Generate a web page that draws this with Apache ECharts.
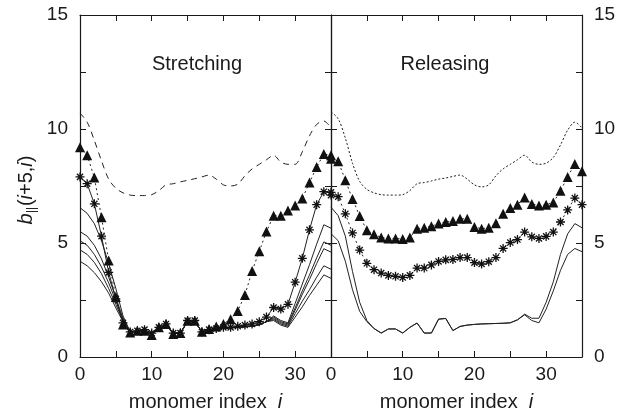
<!DOCTYPE html>
<html style="height: 100%">
  <head>
    <meta charset="UTF-8" />
    <title>b(i+5,i) stretching / releasing</title>
    <script src="https://cdn.jsdelivr.net/npm/echarts@6/dist/echarts.min.js"></script>
  </head>
  <body style="height: 100%; margin: 0; background: #fff">
    <div id="main" style="width: 629px; height: 417px"></div>
    <script>
      // values at monomer index i = 0..35
      const stretchDashed = [10.7, 10.3, 9.5, 8.6, 7.8, 7.4, 7.2, 7.1, 7.08, 7.08, 7.12, 7.3, 7.55, 7.6, 7.68, 7.75, 7.82, 7.9, 7.98, 7.8, 7.55, 7.5, 7.58, 7.95, 8.25, 8.45, 8.65, 8.85, 8.55, 8.45, 8.45, 9.0, 9.7, 10.2, 10.35, 10.05]
      const stretchTri = [9.2, 8.85, 7.87, 6.13, 4.23, 2.63, 1.42, 1.08, 1.15, 1.15, 0.97, 1.3, 1.45, 1.01, 1.05, 1.59, 1.59, 1.11, 1.23, 1.34, 1.45, 1.66, 2.02, 2.72, 3.77, 4.64, 5.5, 6.2, 6.2, 6.42, 6.65, 6.95, 7.65, 8.33, 8.9, 8.85]
      const stretchStar = [7.9, 7.6, 6.72, 5.3, 3.71, 2.55, 1.5, 1.1, 1.15, 1.2, 1.05, 1.3, 1.45, 1.05, 1.05, 1.6, 1.6, 1.1, 1.2, 1.25, 1.3, 1.3, 1.35, 1.4, 1.45, 1.55, 1.75, 2.17, 2.1, 2.31, 3.28, 4.33, 5.58, 6.68, 7.25, 7.22]
      const stretchA = [6.55, 6.3, 5.85, 5.1, 4.1, 3.0, 1.8, 1.1, 1.12, 1.12, 1.02, 1.25, 1.4, 1.05, 1.05, 1.55, 1.55, 1.1, 1.18, 1.22, 1.26, 1.28, 1.3, 1.33, 1.35, 1.42, 1.55, 1.8, 1.6, 1.5, 2.35, 3.2, 4.05, 4.95, 5.8, 5.65]
      const stretchB = [5.5, 5.3, 4.9, 4.3, 3.5, 2.6, 1.7, 1.1, 1.12, 1.12, 1.02, 1.25, 1.4, 1.05, 1.05, 1.55, 1.55, 1.1, 1.18, 1.22, 1.26, 1.28, 1.3, 1.33, 1.35, 1.42, 1.55, 1.75, 1.55, 1.45, 2.15, 2.9, 3.6, 4.35, 5.05, 4.9]
      const stretchC = [5.1, 4.9, 4.5, 3.95, 3.25, 2.45, 1.65, 1.1, 1.12, 1.12, 1.02, 1.25, 1.4, 1.05, 1.05, 1.55, 1.55, 1.1, 1.18, 1.22, 1.26, 1.28, 1.3, 1.33, 1.35, 1.42, 1.55, 1.7, 1.5, 1.4, 2.05, 2.75, 3.4, 4.1, 4.75, 4.6]
      const stretchD = [4.7, 4.5, 4.15, 3.65, 3.0, 2.3, 1.6, 1.1, 1.12, 1.12, 1.02, 1.25, 1.4, 1.05, 1.05, 1.55, 1.55, 1.1, 1.18, 1.22, 1.26, 1.28, 1.3, 1.33, 1.35, 1.42, 1.55, 1.65, 1.45, 1.35, 1.9, 2.45, 2.95, 3.5, 4.0, 3.85]
      const stretchE = [4.2, 4.0, 3.7, 3.3, 2.8, 2.15, 1.55, 1.1, 1.12, 1.12, 1.02, 1.25, 1.4, 1.05, 1.05, 1.55, 1.55, 1.1, 1.18, 1.22, 1.26, 1.28, 1.3, 1.33, 1.35, 1.42, 1.55, 1.6, 1.4, 1.3, 1.75, 2.2, 2.7, 3.15, 3.6, 3.45]

      const releaseDotted = [10.75, 10.45, 9.6, 8.5, 7.7, 7.35, 7.2, 7.12, 7.1, 7.1, 7.12, 7.3, 7.6, 7.65, 7.72, 7.8, 7.85, 7.92, 7.98, 7.8, 7.55, 7.46, 7.55, 7.95, 8.25, 8.45, 8.65, 8.85, 8.55, 8.45, 8.5, 8.75, 9.3, 9.95, 10.3, 10.05]
      const releaseTri = [8.7, 8.59, 7.75, 6.93, 6.18, 5.56, 5.38, 5.24, 5.2, 5.2, 5.18, 5.24, 5.63, 5.67, 5.74, 5.85, 5.92, 5.96, 6.06, 6.06, 5.7, 5.63, 5.67, 5.87, 6.28, 6.54, 6.68, 7.0, 6.71, 6.64, 6.68, 6.78, 7.29, 7.9, 8.47, 8.15]
      const releaseStar = [7.1, 7.03, 6.28, 5.44, 4.69, 4.11, 3.83, 3.68, 3.58, 3.54, 3.49, 3.58, 3.9, 3.9, 4.04, 4.19, 4.26, 4.28, 4.36, 4.36, 4.14, 4.08, 4.18, 4.36, 4.76, 5.02, 5.15, 5.48, 5.27, 5.2, 5.29, 5.48, 5.92, 6.45, 6.97, 6.68]
      const releaseA = [6.57, 6.2, 5.3, 3.75, 2.4, 1.6, 1.25, 1.05, 1.23, 1.23, 1.05, 1.3, 1.49, 1.05, 1.05, 1.66, 1.69, 1.16, 1.34, 1.4, 1.43, 1.45, 1.46, 1.47, 1.48, 1.5, 1.63, 1.88, 1.7, 1.7, 2.4, 3.3, 4.5, 5.4, 5.85, 5.67]
      const releaseB = [5.41, 5.1, 4.2, 2.95, 2.0, 1.55, 1.25, 1.05, 1.23, 1.23, 1.05, 1.3, 1.49, 1.05, 1.05, 1.66, 1.69, 1.16, 1.34, 1.4, 1.43, 1.45, 1.46, 1.47, 1.48, 1.5, 1.63, 1.85, 1.6, 1.5, 2.1, 2.9, 3.8, 4.5, 4.76, 4.62]

      const xLabelEvery = 10
      const yLabelEvery = 5

      const font = '"Liberation Sans", Arial, Helvetica, sans-serif'
      const ink = '#1a1a1a'
      const asterisk = 'path://M5,0L5,10M0,5L10,5M1.6,1.6L8.4,8.4M8.4,1.6L1.6,8.4'

      const pts = (arr) => arr.map((v, i) => [i, v])

      const chart = echarts.init(document.getElementById('main'))

      function xAxis(grid, pos) {
        return {
          type: 'value',
          gridIndex: grid,
          position: pos,
          min: 0,
          max: 35,
          interval: 5,
          splitLine: { show: false },
          axisLine: { onZero: false, lineStyle: { color: ink, width: 1.2 } },
          axisTick: { inside: true, length: 6, lineStyle: { color: ink, width: 1 } },
          axisLabel: {
            show: pos === 'bottom',
            margin: 8,
            fontSize: 19,
            fontFamily: font,
            color: ink,
            formatter: (v) => (v % xLabelEvery === 0 ? String(v) : ''),
          },
          name: pos === 'bottom' ? 'monomer index  {it|i}' : '',
          nameLocation: 'middle',
          nameGap: 35,
          nameTextStyle: {
            fontSize: 20,
            fontFamily: font,
            color: ink,
            rich: { it: { fontSize: 20, fontFamily: font, fontStyle: 'italic', color: ink } },
          },
        }
      }

      function yAxis(grid, pos, labels) {
        return {
          type: 'value',
          gridIndex: grid,
          position: pos,
          min: 0,
          max: 15,
          interval: 2.5,
          splitLine: { show: false },
          axisLine: { show: true, onZero: false, lineStyle: { color: ink, width: 1.2 } },
          axisTick: { show: true, inside: true, length: 6, lineStyle: { color: ink, width: 1 } },
          axisLabel: {
            show: labels,
            margin: 12,
            fontSize: 19,
            fontFamily: font,
            color: ink,
            formatter: (v) => (v % yLabelEvery === 0 ? String(v) : ''),
          },
        }
      }

      function plain(data, xi, dash, smooth) {
        return {
          type: 'line',
          xAxisIndex: xi,
          yAxisIndex: xi,
          data: pts(data),
          showSymbol: false,
          smooth: smooth || false,
          clip: false,
          lineStyle: { color: '#222', width: 1, type: dash || 'solid' },
          z: 2,
        }
      }

      function marked(data, xi, symbol, size, dash) {
        const isStar = symbol === asterisk
        return {
          type: 'line',
          xAxisIndex: xi,
          yAxisIndex: xi,
          data: pts(data),
          symbol: symbol,
          symbolSize: size,
          showAllSymbol: true,
          clip: false,
          lineStyle: { color: '#222', width: 1, type: dash },
          itemStyle: isStar
            ? { color: 'rgba(0,0,0,0)', borderColor: '#111', borderWidth: 1.3 }
            : { color: '#111', borderWidth: 0 },
          z: 3,
        }
      }

      const option = {
        animation: false,
        backgroundColor: '#fff',
        grid: [
          { left: 80, top: 15, width: 251, height: 346.7 },
          { left: 331, top: 15, width: 251, height: 346.7 },
        ],
        xAxis: [xAxis(0, 'bottom'), xAxis(0, 'top'), xAxis(1, 'bottom'), xAxis(1, 'top')],
        yAxis: [yAxis(0, 'left', true), yAxis(0, 'right', false), yAxis(1, 'right', true), yAxis(1, 'left', false)],
        series: [
          plain(stretchDashed, 0, [6, 5], 0.3),
          plain(stretchA, 0),
          plain(stretchB, 0),
          plain(stretchC, 0),
          plain(stretchD, 0),
          plain(stretchE, 0),
          marked(stretchStar, 0, asterisk, 9, 'solid'),
          marked(stretchTri, 0, 'triangle', 10, [2, 3]),

          plain(releaseDotted, 2, [2, 2], 0.3),
          plain(releaseA, 2),
          plain(releaseB, 2),
          marked(releaseStar, 2, asterisk, 9, [2, 3]),
          marked(releaseTri, 2, 'triangle', 10, [2, 3]),
        ],
        graphic: [
          {
            type: 'text',
            x: 197,
            y: 64,
            style: { text: 'Stretching', font: '20px ' + font, fill: ink, align: 'center', verticalAlign: 'middle' },
          },
          {
            type: 'text',
            x: 445,
            y: 64,
            style: { text: 'Releasing', font: '20px ' + font, fill: ink, align: 'center', verticalAlign: 'middle' },
          },
          {
            type: 'text',
            x: 26,
            y: 190,
            rotation: Math.PI / 2,
            style: {
              text: '{b|b}{s|||}{n|(}{i|i}{n|+5,}{i|i}{n|)}',
              align: 'center',
              verticalAlign: 'middle',
              rich: {
                b: { font: 'italic 20px ' + font, fill: ink },
                s: { font: 'italic 12px ' + font, fill: ink, padding: [12, 1, 0, 0] },
                n: { font: '20px ' + font, fill: ink },
                i: { font: 'italic 20px ' + font, fill: ink },
              },
            },
          },
        ],
      }

      chart.setOption(option)
    </script>
  </body>
</html>
